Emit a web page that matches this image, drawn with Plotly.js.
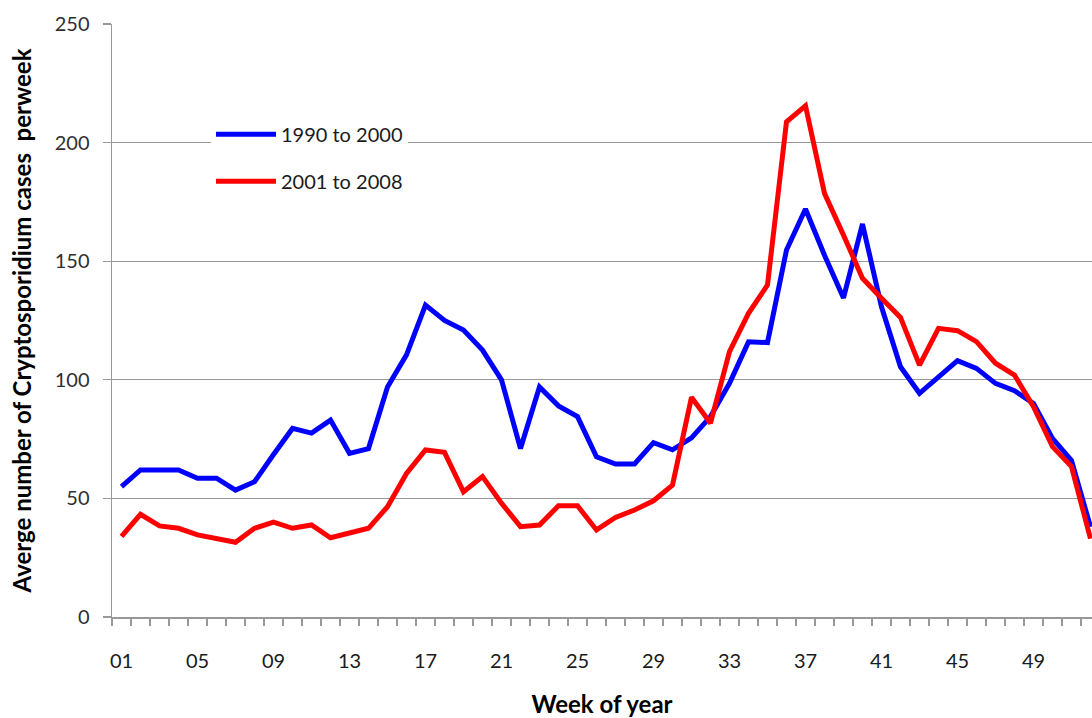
<!DOCTYPE html>
<html>
<head>
<meta charset="utf-8">
<script src="https://cdn.plot.ly/plotly-3.0.1.min.js"></script>
<style>html,body{margin:0;padding:0;background:#fff;}#chart{width:1092px;height:718px;}</style>
</head>
<body>
<div id="chart"></div>
<script>
const weeks = Array.from({length: 52}, (_, i) => i + 1);
const tickWeeks = [1, 5, 9, 13, 17, 21, 25, 29, 33, 37, 41, 45, 49];
const tickLabels = ["01","05","09","13","17","21","25","29","33","37","41","45","49"];

const series1990to2000 = [55, 62, 62, 62, 58.5, 58.5, 53.5, 57, 68.5, 79.5, 77.5, 83, 69, 71, 97,
  110.5, 131.5, 125, 121, 112.5, 100, 71, 97, 89, 84.5, 67.5, 64.5, 64.5, 73.5, 70.5,
  75.5, 84.5, 98.5, 116, 115.7, 154.7, 172, 152.5, 134.5, 165.7, 130.8, 105.5, 94.3, 101.3,
  108.1, 104.8, 98.5, 95.4, 90, 75.3, 66, 38];
const series2001to2008 = [34, 43.3, 38.4, 37.4, 34.6, 33.2, 31.5, 37.4, 40, 37.4, 38.8, 33.4, 35.6, 37.4, 46.5,
  60.5, 70.4, 69.4, 52.8, 59.2, 48, 38.1, 38.8, 46.9, 46.9, 36.7, 42, 45.1, 49, 55.6,
  92.6, 81.7, 111.9, 128, 140, 208.8, 215.5, 178.6, 161, 142.8, 134.4, 126.3, 106.2, 121.7,
  120.7, 116.1, 107, 102, 88.7, 71.8, 63.4, 33];

const seriesNames = ["1990 to 2000", "2001 to 2008"];
const seriesColors = ["#0000FF", "#FF0000"];

const FONT = "Lato, 'Noto Sans', sans-serif";
const traces = [series1990to2000, series2001to2008].map((vals, i) => ({
  type: "scatter", mode: "lines", x: weeks, y: vals, name: seriesNames[i],
  legendgroup: "g" + i,
  line: {color: seriesColors[i], width: 5, shape: "linear"},
  hoverinfo: "skip"
}));

const layout = {
  width: 1092, height: 718,
  margin: {l: 112, r: 0, t: 24, b: 101, pad: 0},
  paper_bgcolor: "#ffffff", plot_bgcolor: "#ffffff",
  font: {family: FONT, color: "#000000", size: 20},
  showlegend: true,
  legend: {
    x: 0.101, y: 0.847, xanchor: "left", yanchor: "top",
    bgcolor: "#ffffff", borderwidth: 0,
    font: {family: FONT, size: 20, color: "#1a1a1a"},
    tracegroupgap: 18, itemwidth: 60,
  },
  xaxis: {
    range: [0.5, 52.08],
    tickmode: "array", tickvals: tickWeeks, ticktext: tickLabels,
    ticks: "", ticklabelstandoff: 25,
    tickfont: {family: FONT, size: 20, color: "#1a1a1a"},
    showgrid: false, zeroline: false,
    showline: true, linecolor: "#989898", linewidth: 1.5,
    minor: {ticks: "outside", tick0: 0.5, dtick: 1, ticklen: 7, tickcolor: "#989898", tickwidth: 1.3, showgrid: false},
    title: {text: "<b>Week of year</b>", font: {family: FONT, size: 24, color: "#000000"}, standoff: 30},
    fixedrange: true
  },
  yaxis: {
    range: [0, 250], tickvals: [0, 50, 100, 150, 200, 250],
    ticks: "outside", ticklen: 8, tickcolor: "#989898", tickwidth: 1.3,
    ticklabelstandoff: 9,
    tickfont: {family: FONT, size: 20, color: "#303030"},
    showgrid: true, gridcolor: "#989898", gridwidth: 1.3,
    zeroline: false, showline: true, linecolor: "#989898", linewidth: 1.5,
    title: {text: "<b>Averge number of Cryptosporidium cases  perweek</b>", font: {family: FONT, size: 24, color: "#000000"}, standoff: 16},
    fixedrange: true
  }
};

Plotly.newPlot("chart", traces, layout, {displayModeBar: false, staticPlot: true});
</script>
</body>
</html>
